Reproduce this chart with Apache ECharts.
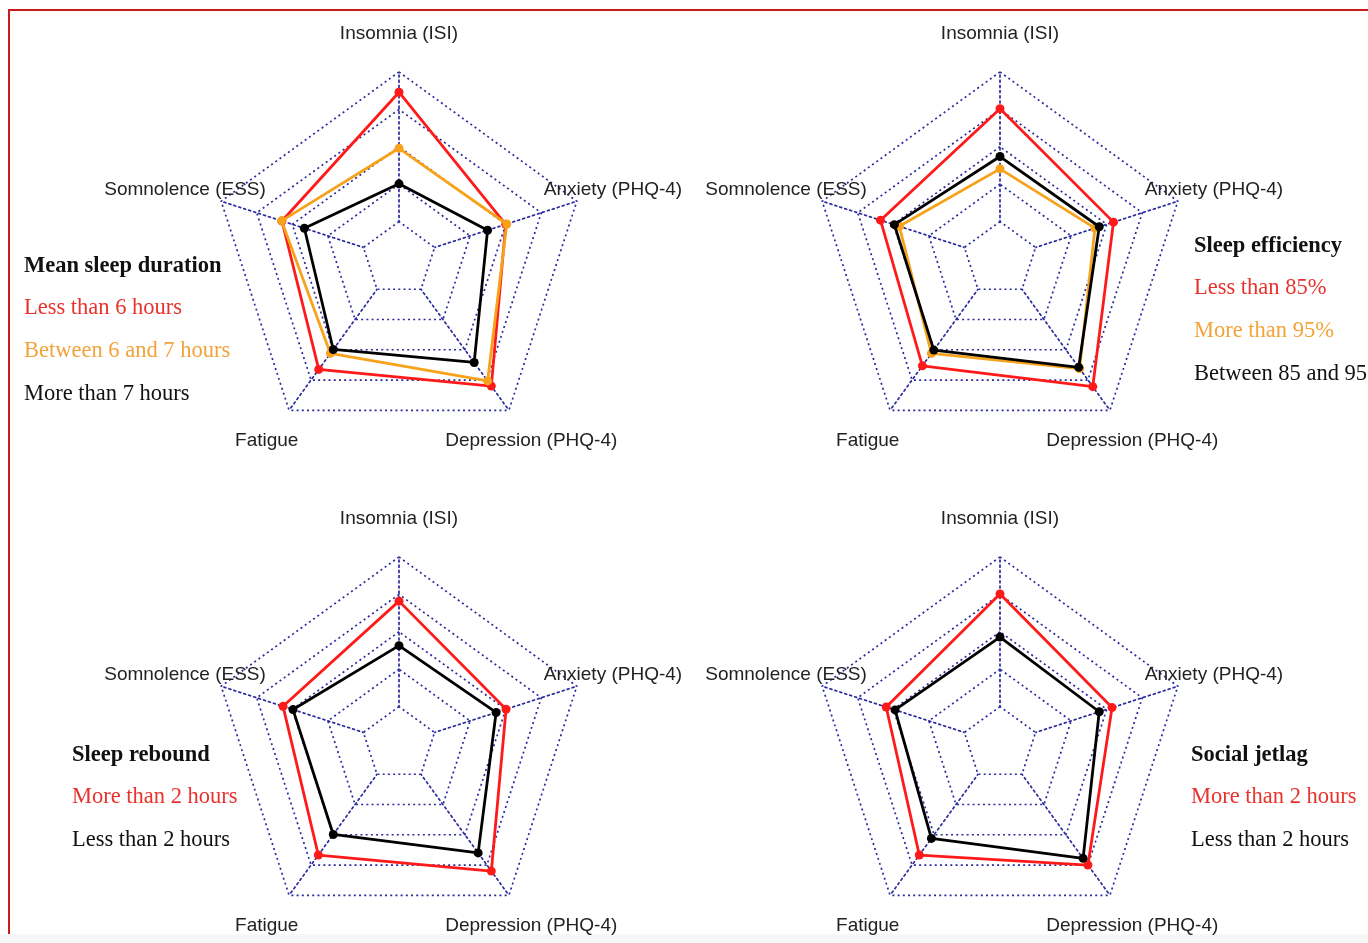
<!DOCTYPE html>
<html>
<head>
<meta charset="utf-8">
<script src="https://cdn.jsdelivr.net/npm/echarts@6/dist/echarts.min.js"></script>
<style>
html,body{margin:0;padding:0;background:#fff;}
#frame{position:absolute;left:8px;top:9px;width:1400px;height:1000px;border-top:2px solid #cc1a1a;border-left:2px solid #cc1a1a;}
#band{position:absolute;left:0;top:934px;width:1368px;height:9px;background:#f7f7f7;}
#chart{position:absolute;left:0;top:0;width:1368px;height:943px;}
</style>
</head>
<body>
<div id="frame"></div>
<div id="band"></div>
<div id="chart"></div>
<script>
// Axes in ECharts (counter-clockwise) order, starting at the top
const indicators = ['Insomnia (ISI)', 'Somnolence (ESS)', 'Fatigue', 'Depression (PHQ-4)', 'Anxiety (PHQ-4)'];
// Ring units: inner ring = 1, outer ring = 5

// Panel 1: Mean sleep duration
const title1 = 'Mean sleep duration';
const names1 = ['Less than 6 hours', 'Between 6 and 7 hours', 'More than 7 hours'];
const p1_lt6 = [4.46, 3.29, 3.65, 4.20, 3.00];
const p1_6to7 = [2.96, 3.30, 3.12, 4.03, 3.03];
const p1_gt7 = [2.01, 2.66, 2.99, 3.42, 2.49];

// Panel 2: Sleep efficiency
const title2 = 'Sleep efficiency';
const names2 = ['Less than 85%', 'More than 95%', 'Between 85 and 95'];
const p2_lt85 = [4.02, 3.36, 3.53, 4.22, 3.19];
const p2_gt95 = [2.41, 2.83, 3.12, 3.62, 2.67];
const p2_85to95 = [2.74, 2.97, 3.01, 3.58, 2.79];

// Panel 3: Sleep rebound
const title3 = 'Sleep rebound';
const names3 = ['More than 2 hours', 'Less than 2 hours'];
const p3_gt2 = [3.82, 3.26, 3.67, 4.20, 3.01];
const p3_lt2 = [2.63, 2.98, 2.99, 3.60, 2.73];

// Panel 4: Social jetlag
const title4 = 'Social jetlag';
const names4 = ['More than 2 hours', 'Less than 2 hours'];
const p4_gt2 = [4.01, 3.20, 3.67, 4.00, 3.15];
const p4_lt2 = [2.86, 2.95, 3.12, 3.78, 2.79];

const RED = '#ff1a1a', ORANGE = '#f7a21b', BLACK = '#000000';
const TXT_RED = '#e8332d', TXT_ORANGE = '#f2a33a', TXT_BLACK = '#111111';
const GRID = '#2a2a9e';
const DOTS = [2, 3.2];

const panels = [
  {center: [399, 259], title: title1, names: names1, values: [p1_lt6, p1_6to7, p1_gt7], colors: [RED, ORANGE, BLACK], txt: [TXT_RED, TXT_ORANGE, TXT_BLACK], tx: 24, ty: 254},
  {center: [1000, 259], title: title2, names: names2, values: [p2_lt85, p2_gt95, p2_85to95], colors: [RED, ORANGE, BLACK], txt: [TXT_RED, TXT_ORANGE, TXT_BLACK], tx: 1194, ty: 234},
  {center: [399, 744], title: title3, names: names3, values: [p3_gt2, p3_lt2], colors: [RED, BLACK], txt: [TXT_RED, TXT_BLACK], tx: 72, ty: 743},
  {center: [1000, 744], title: title4, names: names4, values: [p4_gt2, p4_lt2], colors: [RED, BLACK], txt: [TXT_RED, TXT_BLACK], tx: 1191, ty: 743}
];

const chart = echarts.init(document.getElementById('chart'), null, {renderer: 'canvas'});

// Main radars (grid rings + names); inner ring filled white so spokes start at the first ring
const radarMain = panels.map(p => ({
  z: 1,
  center: p.center,
  radius: 187,
  startAngle: 90,
  splitNumber: 5,
  shape: 'polygon',
  nameGap: 38,
  indicator: indicators.map(n => ({name: n, min: 0, max: 5})),
  axisName: {color: '#222', fontSize: 19, fontFamily: 'Liberation Sans', align: 'center', verticalAlign: 'middle'},
  splitLine: {lineStyle: {color: GRID, width: 1.7, type: DOTS}},
  splitArea: {show: true, areaStyle: {color: ['#ffffff', 'rgba(0,0,0,0)', 'rgba(0,0,0,0)', 'rgba(0,0,0,0)', 'rgba(0,0,0,0)']}},
  axisLine: {show: false},
  axisTick: {show: false},
  axisLabel: {show: false}
}));
// Helper radars underneath: spokes only
const radarSpokes = panels.map(p => ({
  z: 0,
  center: p.center,
  radius: 187,
  startAngle: 90,
  splitNumber: 5,
  shape: 'polygon',
  indicator: indicators.map(n => ({name: '', min: 0, max: 5})),
  axisName: {show: false},
  splitLine: {show: false},
  splitArea: {show: false},
  axisLine: {lineStyle: {color: GRID, width: 1.7, type: DOTS}},
  axisTick: {show: false},
  axisLabel: {show: false}
}));

const series = [];
panels.forEach((p, i) => {
  p.names.forEach((nm, k) => {
    series.push({
      type: 'radar',
      radarIndex: i,
      name: nm,
      symbol: 'circle',
      symbolSize: 9,
      z: 3 + k,
      lineStyle: {width: 2.8, color: p.colors[k]},
      itemStyle: {color: p.colors[k]},
      data: [{name: nm, value: p.values[k]}]
    });
  });
});

const title = panels.map(p => ({
  text: p.title,
  left: p.tx,
  top: p.ty,
  padding: 0,
  textStyle: {fontFamily: 'Liberation Serif', fontSize: 22.5, fontWeight: 'bold', color: '#111', lineHeight: 24}
}));

const legend = panels.map(p => ({
  orient: 'vertical',
  left: p.tx - 5,
  top: p.ty + 42,
  padding: 0,
  itemWidth: 0,
  itemHeight: 0,
  itemGap: 19,
  selectedMode: false,
  icon: 'circle',
  textStyle: {fontFamily: 'Liberation Serif', fontSize: 22.5, lineHeight: 24},
  data: p.names.map((nm, k) => ({name: nm, textStyle: {color: p.txt[k]}}))
}));

chart.setOption({
  animation: false,
  backgroundColor: 'transparent',
  title: title,
  legend: legend,
  radar: radarMain.concat(radarSpokes),
  series: series
});
</script>
</body>
</html>
